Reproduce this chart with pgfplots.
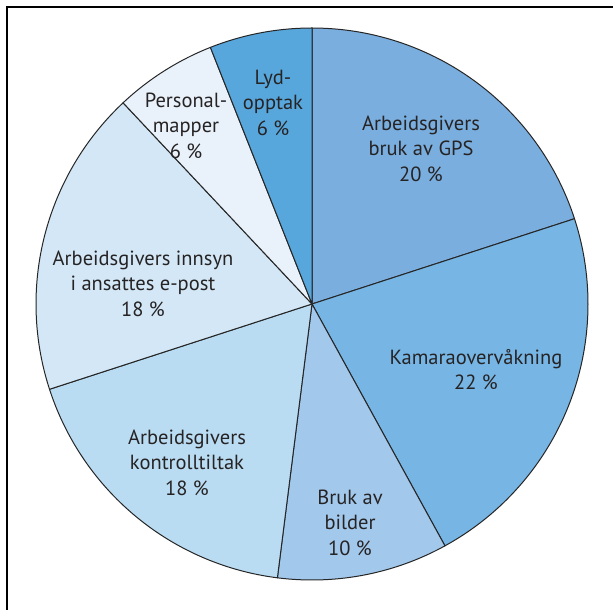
\documentclass[border=0pt]{standalone}
\usepackage{pgfplots}
\pgfplotsset{compat=1.18}
\usepackage{fontspec}
\setmainfont{PT Sans}
\definecolor{cGPS}{RGB}{122,174,222}
\definecolor{cKam}{RGB}{118,181,228}
\definecolor{cBil}{RGB}{162,200,236}
\definecolor{cKon}{RGB}{186,220,243}
\definecolor{cInn}{RGB}{211,231,246}
\definecolor{cPer}{RGB}{233,242,250}
\definecolor{cLyd}{RGB}{88,167,220}
\definecolor{txt}{RGB}{38,35,36}
\begin{document}
\begin{tikzpicture}
\begin{axis}[
  width=613pt, height=610pt, scale only axis,
  xmin=0, xmax=613, ymin=0, ymax=610,
  hide axis, clip=false,
]
% slices: GPS 20, Kamera 22, Bilder 10, Kontroll 18, Innsyn 18, Personal 6, Lyd 6 (clockwise from top)
\pgfplotsset{slice/.style={draw=black!85, line width=1pt, samples=80, line join=round}}
\addplot[slice, fill=cGPS, domain=18:90] ({312+276*cos(x)},{306+276*sin(x)}) -- (axis cs:312,306) -- cycle;
\addplot[slice, fill=cKam, domain=-61.2:18] ({312+276*cos(x)},{306+276*sin(x)}) -- (axis cs:312,306) -- cycle;
\addplot[slice, fill=cBil, domain=-97.2:-61.2] ({312+276*cos(x)},{306+276*sin(x)}) -- (axis cs:312,306) -- cycle;
\addplot[slice, fill=cKon, domain=-162:-97.2] ({312+276*cos(x)},{306+276*sin(x)}) -- (axis cs:312,306) -- cycle;
\addplot[slice, fill=cInn, domain=-226.8:-162] ({312+276*cos(x)},{306+276*sin(x)}) -- (axis cs:312,306) -- cycle;
\addplot[slice, fill=cPer, domain=-248.4:-226.8] ({312+276*cos(x)},{306+276*sin(x)}) -- (axis cs:312,306) -- cycle;
\addplot[slice, fill=cLyd, domain=-270:-248.4] ({312+276*cos(x)},{306+276*sin(x)}) -- (axis cs:312,306) -- cycle;
% frame
\draw[line width=2.2pt, black] (axis cs:7,-20) rectangle (axis cs:640,603);
% labels
\tikzset{lab/.style={align=center, text=txt, font=\fontsize{20.5}{25.5}\selectfont, inner sep=0pt}}
\node[lab] at (axis cs:421,461.5) {Arbeidsgivers\\bruk av GPS\\20 \%};
\node[lab] at (axis cs:476,240.5) {Kamaraovervåkning\\22 \%};
\node[lab] at (axis cs:350,87.5) {Bruk av\\bilder\\10 \%};
\node[lab] at (axis cs:187,147.5) {Arbeidsgivers\\kontrolltiltak\\18 \%};
\node[lab] at (axis cs:143,326.5) {Arbeidsgivers innsyn\\i ansattes e-post\\18 \%};
\node[lab] at (axis cs:186,484.5) {Personal-\\mapper\\6 \%};
\node[lab] at (axis cs:273,507.5) {Lyd-\\opptak\\6 \%};
\end{axis}
\pgfresetboundingbox
\path[use as bounding box] (current axis.south west) rectangle (current axis.north east);
\end{tikzpicture}
\end{document}
